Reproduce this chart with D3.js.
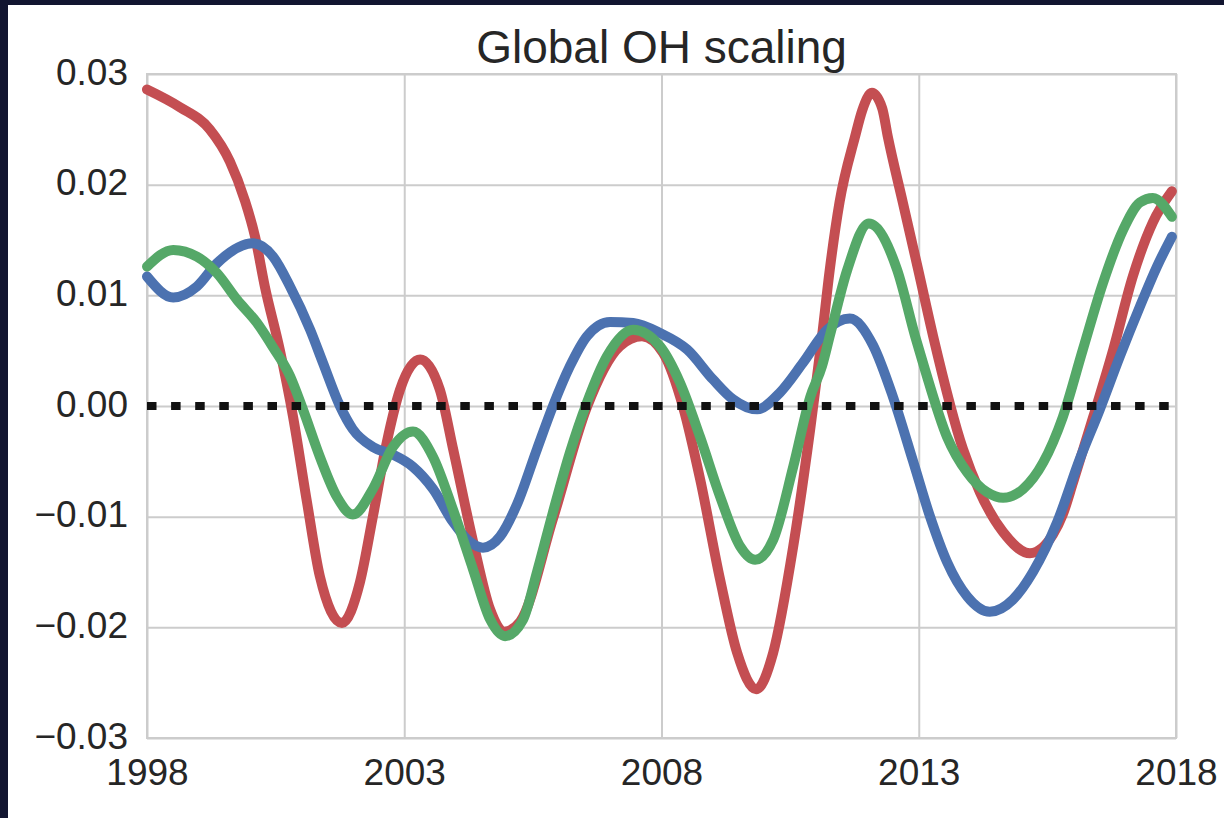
<!DOCTYPE html>
<html>
<meta charset="utf-8">
<style>
  body {
    margin: 0;
    background-color: #121530;
    overflow: hidden;
  }
  text {
    font-family: "Liberation Sans", Arial, sans-serif;
    fill: #262626;
  }
  .grid line {
    stroke: #cccccc;
    stroke-width: 2;
  }
</style>
<body>
<script src="https://cdnjs.cloudflare.com/ajax/libs/d3/7.8.5/d3.min.js"></script>
<script>

// values
var redYears = [1998.00, 1998.64, 1999.22, 1999.61, 1999.90, 2000.10, 2000.29, 2000.58, 2000.84, 2001.11,
  2001.36, 2001.79, 2002.14, 2002.39, 2002.66, 2002.92, 2003.31, 2003.69, 2003.95, 2004.34,
  2004.67, 2004.94, 2005.25, 2005.89, 2006.55, 2007.19, 2007.62, 2008.03, 2008.42, 2008.75,
  2009.14, 2009.47, 2009.84, 2010.17, 2010.56, 2010.89, 2011.04, 2011.12, 2011.27, 2011.46,
  2011.76, 2011.90, 2012.09, 2012.29, 2012.40, 2012.69, 2012.99, 2013.28, 2013.86, 2014.19,
  2014.64, 2015.16, 2015.61, 2015.80, 2016.00, 2016.39, 2016.78, 2017.16, 2017.55, 2017.92];
var redVals = [0.0286, 0.0270, 0.0250, 0.0221, 0.0186, 0.0153, 0.0108, 0.0051, -0.0010, -0.0087,
  -0.0154, -0.0196, -0.0159, -0.0100, -0.0033, 0.0015, 0.0042, 0.0015, -0.0039, -0.0123,
  -0.0184, -0.0204, -0.0195, -0.0102, -0.0001, 0.0054, 0.0063, 0.0048, -0.0001, -0.0066,
  -0.0157, -0.0223, -0.0256, -0.0223, -0.0127, -0.0021, 0.0033, 0.0063, 0.0123, 0.0184,
  0.0243, 0.0267, 0.0283, 0.0269, 0.0243, 0.0184, 0.0123, 0.0063, -0.0039, -0.0078,
  -0.0114, -0.0133, -0.0116, -0.0098, -0.0069, -0.0010, 0.0051, 0.0117, 0.0166, 0.0194];

var blueYears = [1998.00, 1998.51, 1998.97, 1999.36, 2000.06, 2000.45, 2000.78, 2001.17, 2001.42, 2001.75,
  2002.00, 2002.39, 2002.78, 2003.17, 2003.56, 2003.95, 2004.28, 2004.53, 2004.86, 2005.19,
  2005.58, 2005.89, 2006.22, 2006.55, 2007.00, 2007.45, 2007.97, 2008.50, 2009.00, 2009.39,
  2009.86, 2010.30, 2010.75, 2011.22, 2011.66, 2012.11, 2012.50, 2012.89, 2013.22, 2013.55,
  2013.94, 2014.38, 2014.83, 2015.22, 2015.69, 2016.13, 2016.52, 2016.91, 2017.30, 2017.63,
  2017.92];
var blueVals = [0.0117, 0.0098, 0.0108, 0.0129, 0.0147, 0.0135, 0.0108, 0.0069, 0.0039, 0.0000,
  -0.0021, -0.0037, -0.0044, -0.0055, -0.0075, -0.0105, -0.0123, -0.0128, -0.0118, -0.0089,
  -0.0039, 0.0000, 0.0036, 0.0063, 0.0076, 0.0075, 0.0066, 0.0051, 0.0024, 0.0006,
  -0.0003, 0.0012, 0.0039, 0.0069, 0.0079, 0.0055, 0.0008, -0.0050, -0.0100, -0.0141,
  -0.0172, -0.0186, -0.0175, -0.0150, -0.0105, -0.0048, -0.0003, 0.0045, 0.0090, 0.0126,
  0.0153];

var greenYears = [1998.00, 1998.51, 1998.97, 1999.36, 1999.75, 2000.14, 2000.45, 2000.78, 2001.03, 2001.36,
  2001.69, 2002.00, 2002.39, 2002.78, 2003.17, 2003.56, 2003.95, 2004.34, 2004.67, 2004.96,
  2005.31, 2005.58, 2005.89, 2006.22, 2006.55, 2006.94, 2007.45, 2007.97, 2008.36, 2008.75,
  2009.14, 2009.53, 2009.82, 2010.17, 2010.56, 2010.89, 2011.12, 2011.28, 2011.61, 2012.03,
  2012.58, 2012.93, 2013.12, 2013.55, 2013.94, 2014.33, 2014.64, 2015.03, 2015.42, 2015.80,
  2016.19, 2016.58, 2016.97, 2017.30, 2017.55, 2017.92];
var greenVals = [0.0126, 0.0141, 0.0135, 0.0120, 0.0096, 0.0075, 0.0053, 0.0027, -0.0003, -0.0046,
  -0.0082, -0.0098, -0.0075, -0.0037, -0.0023, -0.0046, -0.0094, -0.0148, -0.0193, -0.0208,
  -0.0193, -0.0150, -0.0096, -0.0042, 0.0003, 0.0045, 0.0069, 0.0054, 0.0021, -0.0028,
  -0.0082, -0.0127, -0.0139, -0.0121, -0.0055, 0.0008, 0.0036, 0.0065, 0.0123, 0.0165,
  0.0123, 0.0063, 0.0033, -0.0028, -0.0060, -0.0078, -0.0083, -0.0075, -0.0051, -0.0010,
  0.0051, 0.0111, 0.0159, 0.0184, 0.0188, 0.0171];

var xTicks = [1998, 2003, 2008, 2013, 2018];
var yTicks = [-0.03, -0.02, -0.01, 0.00, 0.01, 0.02, 0.03];
var titleText = 'Global OH scaling';

var width = 1224;
var height = 818;
var margin = { top: 74, right: 48, bottom: 80, left: 147 };
var plotW = width - margin.left - margin.right;
var plotH = height - margin.top - margin.bottom;

var x = d3.scaleLinear().domain([1998, 2018]).range([0, plotW]);
var y = d3.scaleLinear().domain([-0.03, 0.03]).range([plotH, 0]);

var svg = d3.select('body').append('svg')
  .attr('width', width)
  .attr('height', height);

// dark frame, then white figure
svg.append('rect').attr('width', width).attr('height', height).attr('fill', '#121530');
svg.append('rect').attr('x', 8).attr('y', 5)
  .attr('width', width - 8).attr('height', height - 5).attr('fill', '#ffffff');

var g = svg.append('g').attr('transform', 'translate(' + margin.left + ',' + margin.top + ')');

// grid + tick labels
var yAxis = g.append('g').attr('class', 'grid')
  .call(d3.axisLeft(y).tickValues(yTicks).tickSize(-plotW).tickPadding(19)
    .tickFormat(d3.format('.2f')));
yAxis.select('.domain').remove();
yAxis.selectAll('text').attr('dy', '0.27em').style('font-size', '37px').attr('fill', '#333333');

var xAxis = g.append('g').attr('class', 'grid')
  .attr('transform', 'translate(0,' + plotH + ')')
  .call(d3.axisBottom(x).tickValues(xTicks).tickSize(-plotH).tickPadding(21)
    .tickFormat(d3.format('d')));
xAxis.select('.domain').remove();
xAxis.selectAll('text').style('font-size', '37px').attr('fill', '#333333');

g.append('rect')
  .attr('width', plotW).attr('height', plotH)
  .attr('fill', 'none').attr('stroke', '#cccccc').attr('stroke-width', 2);

var line = d3.line()
  .x(function(d) { return x(d[0]); })
  .y(function(d) { return y(d[1]); })
  .curve(d3.curveMonotoneX);

var series = [
  { years: redYears, vals: redVals, color: '#c44e52' },
  { years: blueYears, vals: blueVals, color: '#4c72b0' },
  { years: greenYears, vals: greenVals, color: '#55a868' }
];

series.forEach(function(s) {
  g.append('path')
    .datum(d3.zip(s.years, s.vals))
    .attr('d', line)
    .attr('fill', 'none')
    .attr('stroke', s.color)
    .attr('stroke-width', 10)
    .attr('stroke-linejoin', 'round')
    .attr('stroke-linecap', 'round');
});

// zero line, dotted
g.append('line')
  .attr('x1', x(1998)).attr('x2', x(2018))
  .attr('y1', y(0)).attr('y2', y(0))
  .attr('stroke', '#111111')
  .attr('stroke-width', 8)
  .attr('stroke-dasharray', '9.5,14.6');

svg.append('text')
  .attr('x', margin.left + plotW / 2)
  .attr('y', 63)
  .attr('text-anchor', 'middle')
  .attr('fill', '#333333')
  .style('font-size', '46px')
  .text(titleText);

</script>
</body>
</html>
